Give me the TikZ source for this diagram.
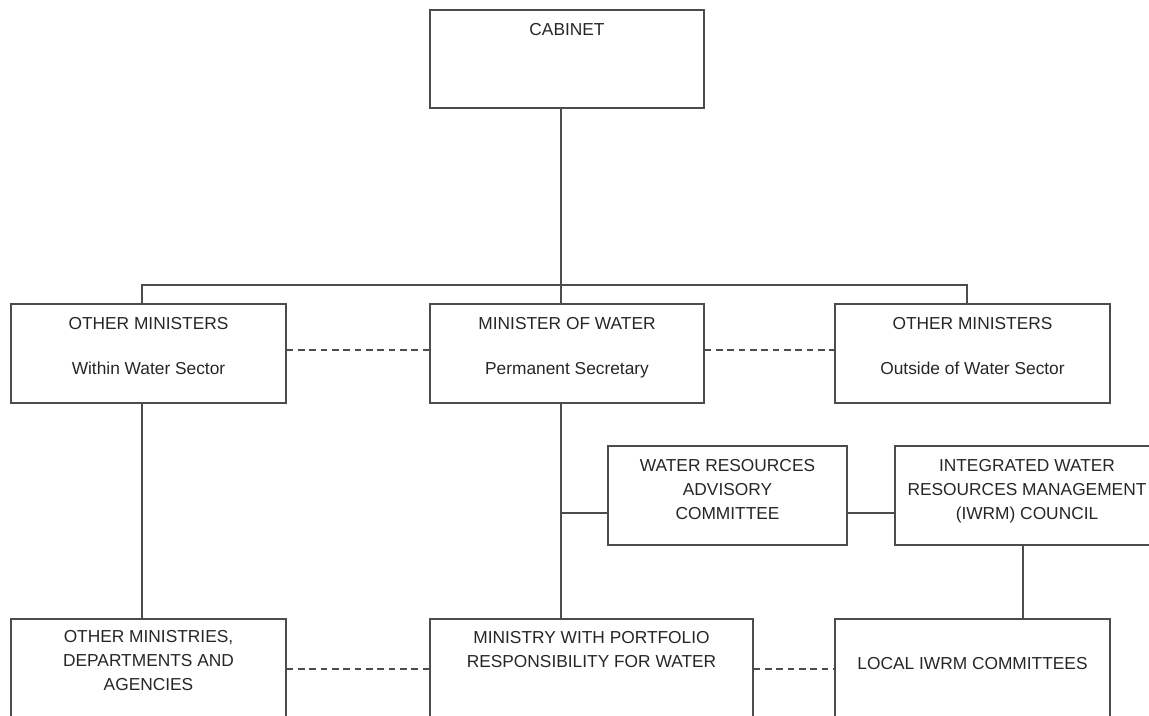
\documentclass[tikz,border=0pt]{standalone}
\usepackage{fontspec}
\setmainfont{Liberation Sans}
\usetikzlibrary{fit,calc}
\tikzset{
  orgbox/.style={draw=black!70,line width=1.2pt,inner sep=0pt},
  boxtext/.style={anchor=north,inner sep=0pt,align=center,text=black!85,font=\fontsize{13}{18}\selectfont},
  link/.style={draw=black!70,line width=1.2pt},
  dashlink/.style={link,dash pattern=on 5pt off 3.5pt},
}

\begin{document}
\begin{tikzpicture}[x=0.75pt,y=-0.75pt]
\useasboundingbox (0,0) rectangle (1149,716);
\clip (0,0) rectangle (1149,716);
% top
\node[orgbox,fit={(430,10)(704,108)}] (cab) {};
\node[boxtext] (cabT) at (567,23) {CABINET};
% ministers
\node[orgbox,fit={(11,304)(286,403)}] (omw) {};
\node[orgbox,fit={(430,304)(704,403)}] (mow) {};
\node[orgbox,fit={(835,304)(1110,403)}] (omo) {};
\node[boxtext] (omwT) at (148.5,317) {OTHER MINISTERS\\[16pt]Within Water Sector};
\node[boxtext] (mowT) at (567,317) {MINISTER OF WATER\\[16pt]Permanent Secretary};
\node[boxtext] (omoT) at (972.5,317) {OTHER MINISTERS\\[16pt]Outside of Water Sector};
% advisory bodies
\node[orgbox,fit={(608,446)(847,545)}] (wrac) {};
\node[orgbox,fit={(895,446)(1160,545)}] (iwrm) {};
\node[boxtext] (wracT) at (727.5,459) {WATER RESOURCES\\ADVISORY\\COMMITTEE};
\node[boxtext] (iwrmT) at (1027,459) {INTEGRATED WATER\\RESOURCES MANAGEMENT\\(IWRM) COUNCIL};
% bottom row
\node[orgbox,fit={(11,619)(286,760)}] (omd) {};
\node[orgbox,fit={(430,619)(753,760)}] (mpr) {};
\node[orgbox,fit={(835,619)(1110,760)}] (lic) {};
\node[boxtext] (omdT) at (148.5,630) {OTHER MINISTRIES,\\DEPARTMENTS AND\\AGENCIES};
\node[boxtext] (mprT) at (591.5,631) {MINISTRY WITH PORTFOLIO\\RESPONSIBILITY FOR WATER};
\node[boxtext] (licT) at (972.5,657) {LOCAL IWRM COMMITTEES};
% bus and drops
\coordinate (busL) at (142,285);
\coordinate (busR) at (967,285);
\coordinate (spine) at (561,285);
\coordinate (tap) at (561,513);
\draw[link] (cab.south -| spine) -- (mow.north -| spine);
\draw[link] (omw.north -| busL) -- (busL) -- (busR) -- (omo.north -| busR);
\draw[link] (omw.south -| busL) -- (omd.north -| busL);
\draw[link] (mow.south -| spine) -- (mpr.north -| spine);
\draw[link] (tap) -- (wrac.west |- tap);
\draw[link] (wrac.east |- tap) -- (iwrm.west |- tap);
\draw[link] (iwrm.south -| 1023,0) -- (lic.north -| 1023,0);
% dashed relations
\foreach \a/\b/\y in {omw/mow/350,mow/omo/350,omd/mpr/669,mpr/lic/669}
  \draw[dashlink] (\a.east |- 0,\y) -- (\b.west |- 0,\y);
\end{tikzpicture}
\end{document}
